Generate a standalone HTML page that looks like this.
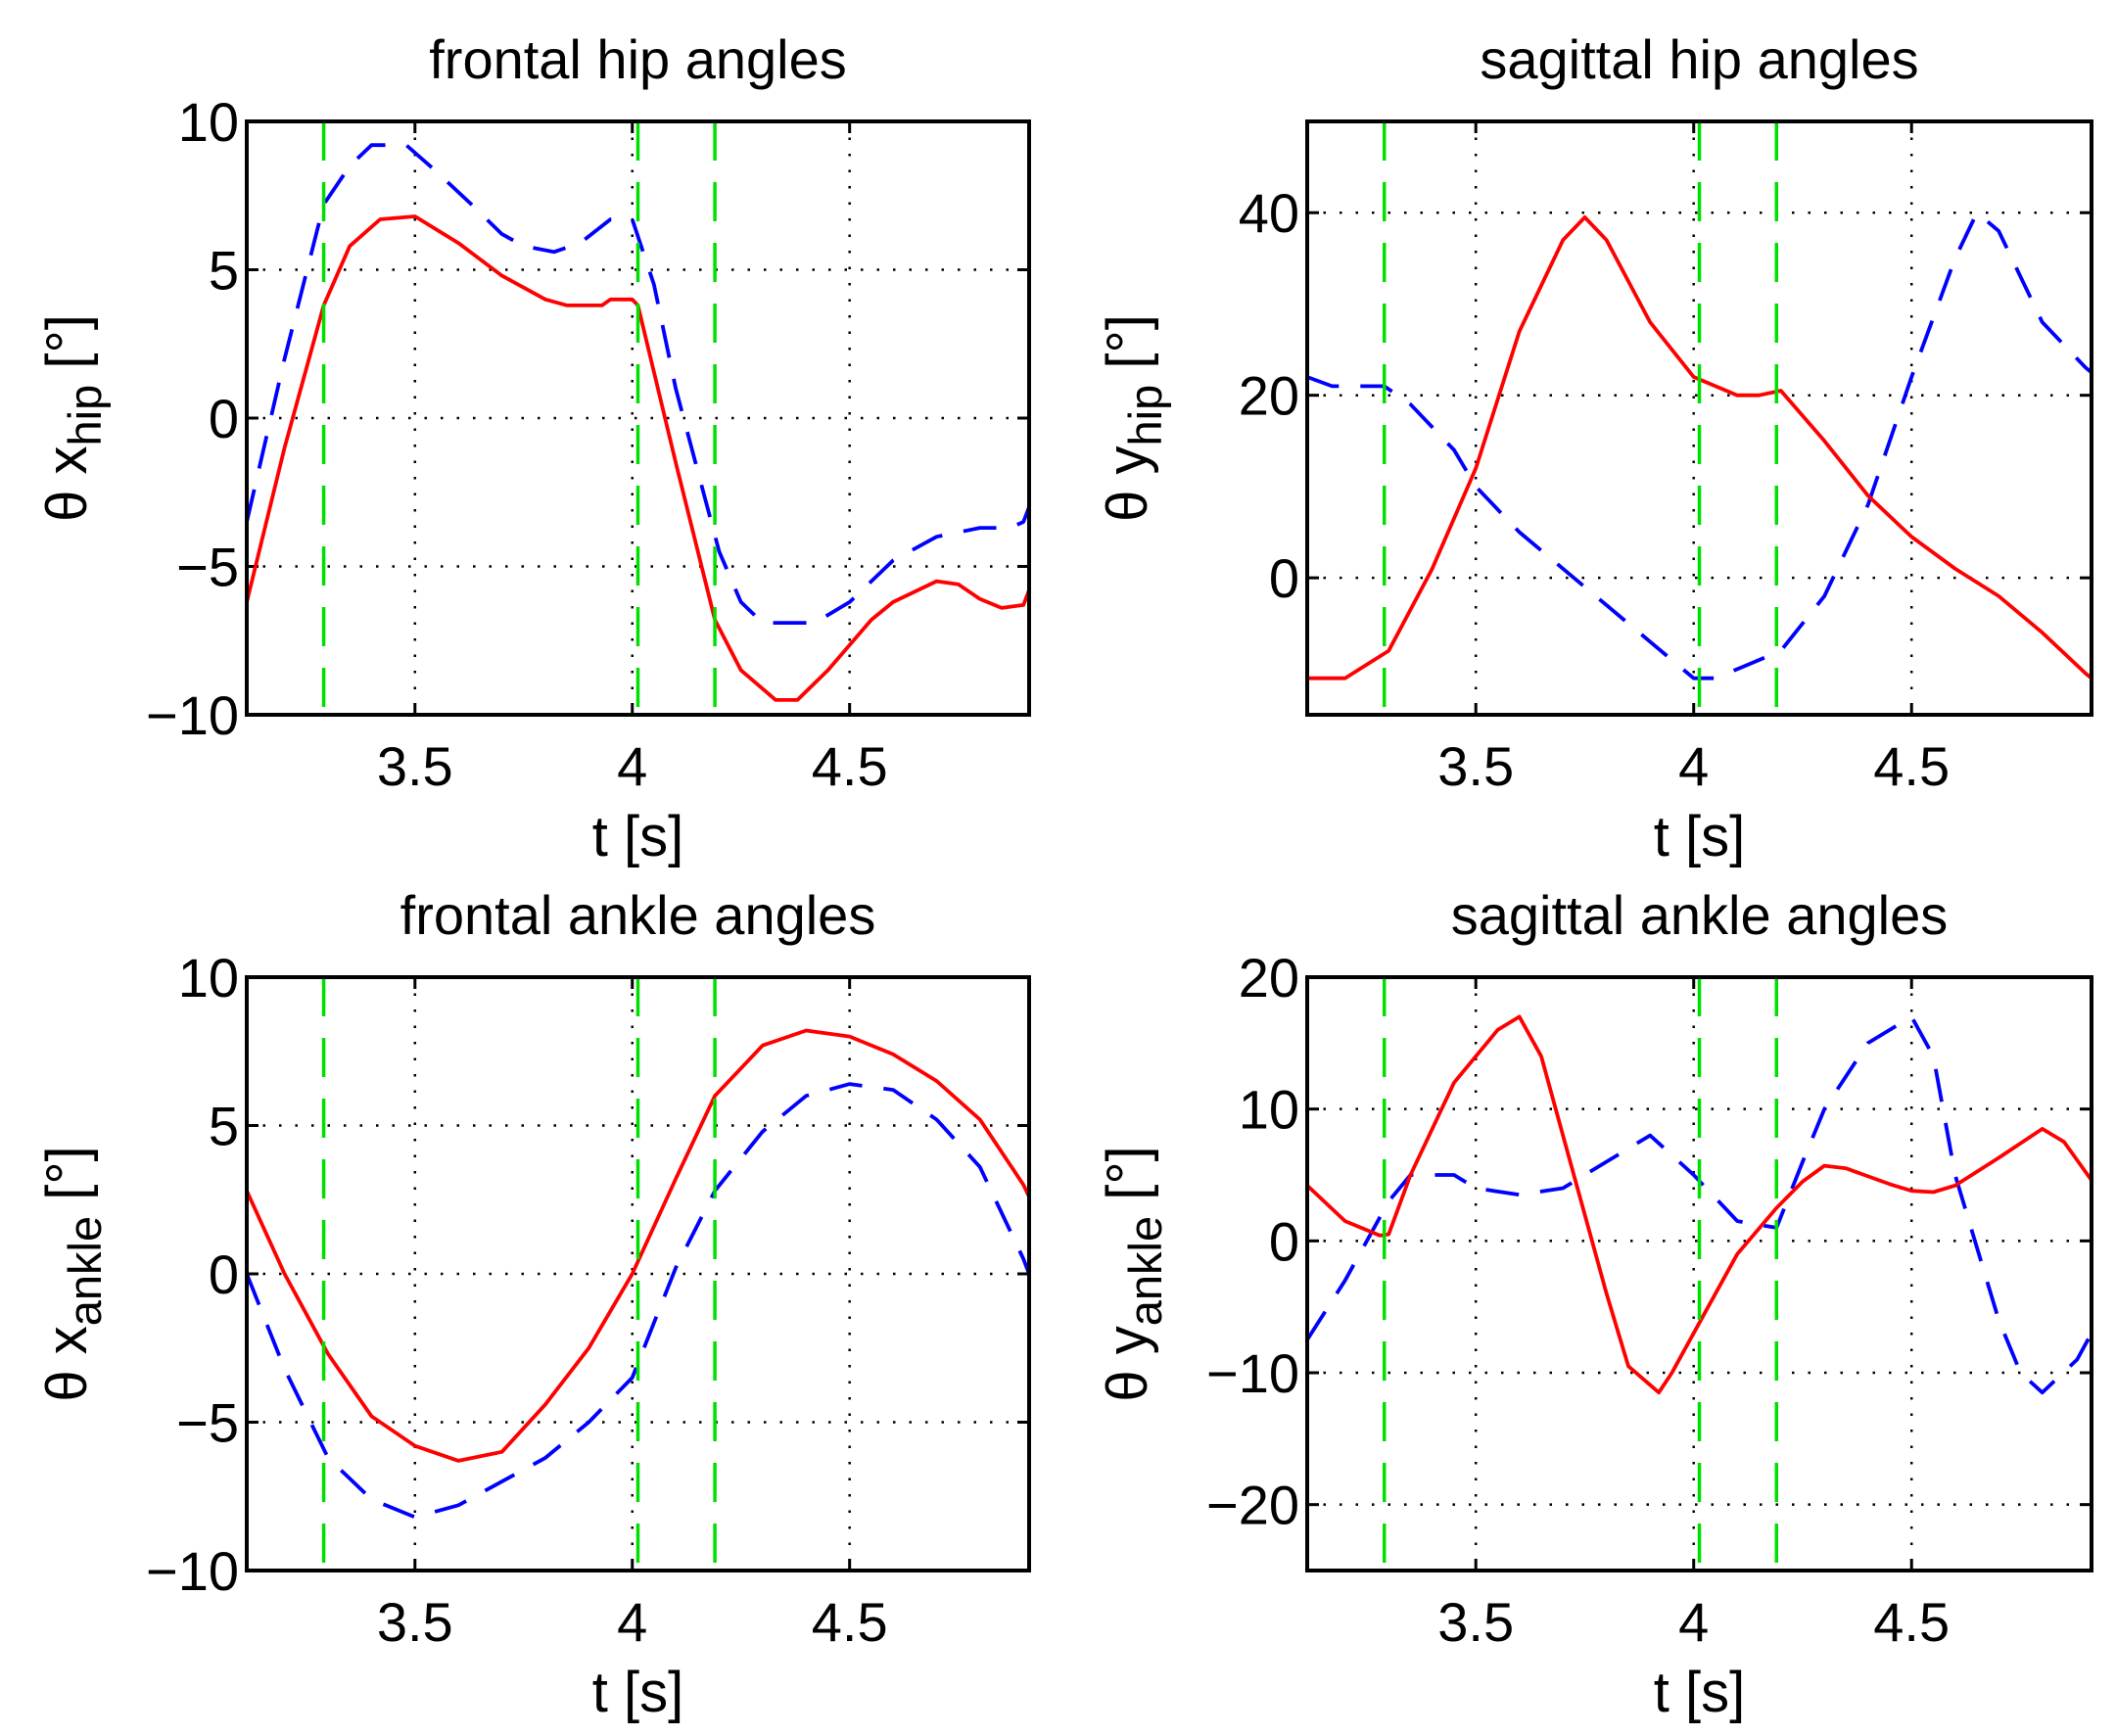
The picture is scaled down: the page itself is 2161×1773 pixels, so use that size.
<!DOCTYPE html>
<html><head><meta charset="utf-8"><style>
html,body{margin:0;padding:0;background:#fff}
svg{display:block}
text{font-family:"Liberation Sans",sans-serif;fill:#000}
</style></head><body>
<svg id="fig" width="2161" height="1773" viewBox="0 0 2161 1773" xmlns="http://www.w3.org/2000/svg"></svg>
<script>
const tHipX = [3.113,3.2,3.29,3.35,3.42,3.5,3.6,3.7,3.8,3.85,3.93,3.95,4.0,4.013,4.1,4.19,4.25,4.33,4.38,4.45,4.55,4.6,4.7,4.75,4.8,4.85,4.9,4.913];
const redHipX = [-6.2,-1,3.8,5.8,6.7,6.8,5.9,4.8,4.0,3.8,3.8,4.0,4.0,3.8,-1.5,-6.8,-8.5,-9.5,-9.5,-8.5,-6.8,-6.2,-5.5,-5.6,-6.1,-6.4,-6.3,-5.8];
const tHipXb = [3.113,3.2,3.29,3.35,3.4,3.48,3.55,3.63,3.7,3.75,3.82,3.88,3.95,4.0,4.05,4.1,4.2,4.25,4.3,4.42,4.5,4.6,4.7,4.8,4.87,4.9,4.913];
const blueHipX = [-3.5,2,7.2,8.5,9.2,9.2,8.3,7.2,6.2,5.8,5.6,5.9,6.7,6.7,4.5,1,-4.5,-6.2,-6.9,-6.9,-6.2,-4.8,-4.0,-3.7,-3.7,-3.5,-3];
const tHipY = [3.113,3.2,3.3,3.4,3.5,3.6,3.7,3.75,3.8,3.9,4.0,4.1,4.15,4.2,4.3,4.4,4.5,4.6,4.7,4.8,4.9,4.913];
const redHipY = [-11,-11,-8,1,12,27,37,39.5,37,28,22,20,20,20.5,15,9,4.5,1,-2,-6,-10.5,-11];
const tHipYb = [3.113,3.17,3.25,3.29,3.35,3.45,3.5,3.6,3.7,3.8,3.9,4.0,4.05,4.1,4.2,4.3,4.4,4.5,4.6,4.65,4.7,4.8,4.9,4.913];
const blueHipY = [22,21,21,21,19,14,10,5,1,-3,-7,-11,-11,-10,-8,-2,8,22,35,40,38,28,23,22.5];
const tAnkX = [3.113,3.2,3.3,3.4,3.5,3.6,3.7,3.8,3.9,4.0,4.1,4.19,4.3,4.4,4.5,4.6,4.7,4.8,4.9,4.913];
const redAnkX = [2.8,0,-2.7,-4.8,-5.8,-6.3,-6.0,-4.4,-2.5,0,3.2,6.0,7.7,8.2,8.0,7.4,6.5,5.2,3.0,2.6];
const blueAnkX = [0,-3.2,-6.2,-7.6,-8.2,-7.8,-7.0,-6.2,-5.0,-3.5,0.2,2.8,4.8,6.0,6.4,6.2,5.2,3.6,0.5,0];
const tAnkY = [3.113,3.2,3.28,3.3,3.35,3.45,3.55,3.6,3.65,3.7,3.8,3.85,3.92,3.95,4.0,4.1,4.19,4.25,4.3,4.35,4.45,4.5,4.55,4.6,4.7,4.8,4.85,4.9,4.913];
const redAnkY = [4.2,1.5,0.4,0.5,5,12,16,17,14,8,-4,-9.5,-11.5,-10,-7,-1,2.5,4.5,5.7,5.5,4.3,3.8,3.7,4.2,6.3,8.5,7.5,5.2,4.6];
const tAnkYb = [3.113,3.2,3.3,3.35,3.45,3.5,3.6,3.7,3.8,3.9,4.0,4.1,4.19,4.25,4.3,4.4,4.5,4.55,4.6,4.7,4.75,4.8,4.88,4.913];
const blueAnkY = [-7.5,-3,3,5,5,4,3.5,4,6,8,5,1.5,1,6,10,15,17,14,5,-6,-10,-11.5,-9,-7];
const events = [3.113,3.29,4.013,4.19,4.913];
const xTicks = [3.5,4,4.5];
const xTickLabels = ["3.5","4","4.5"];

const NS="http://www.w3.org/2000/svg";
const svg=document.getElementById('fig');
function mk(tag,attrs,parent){const e=document.createElementNS(NS,tag);for(const k in attrs)e.setAttribute(k,attrs[k]);(parent||svg).appendChild(e);return e;}

const panels=[
 {name:'frontal-hip',title:'frontal hip angles',sym:'x',sub:'hip',box:[252,124,1051,730],yl:[-10,10],yt:[-10,-5,0,5,10],
  series:[[tHipXb,blueHipX,'blue'],[tHipX,redHipX,'red']]},
 {name:'sagittal-hip',title:'sagittal hip angles',sym:'y',sub:'hip',box:[1335,124,2136,730],yl:[-15,50],yt:[0,20,40],
  series:[[tHipYb,blueHipY,'blue'],[tHipY,redHipY,'red']]},
 {name:'frontal-ankle',title:'frontal ankle angles',sym:'x',sub:'ankle',box:[252,998,1051,1604],yl:[-10,10],yt:[-10,-5,0,5,10],
  series:[[tAnkX,blueAnkX,'blue'],[tAnkX,redAnkX,'red']]},
 {name:'sagittal-ankle',title:'sagittal ankle angles',sym:'y',sub:'ankle',box:[1335,998,2136,1604],yl:[-25,20],yt:[-20,-10,0,10,20],
  series:[[tAnkYb,blueAnkY,'blue'],[tAnkY,redAnkY,'red']]}
];
const xl=[3.113,4.913];
panels.forEach(p=>{
  const [x0,y0,x1,y1]=p.box;
  const g=mk('g',{});
  
  
  const X=t=>x0+(t-xl[0])/(xl[1]-xl[0])*(x1-x0);
  const Y=v=>y1-(v-p.yl[0])/(p.yl[1]-p.yl[0])*(y1-y0);
  xTicks.forEach((t,i)=>{
    const l=mk('line',{x1:X(t),x2:X(t),y1:y0,y2:y1,stroke:'#000','stroke-width':2.5,'stroke-dasharray':'2.5 14'},g);
    
    
    mk('line',{x1:X(t),x2:X(t),y1:y1,y2:y1-12,stroke:'#000','stroke-width':3},g);
    mk('line',{x1:X(t),x2:X(t),y1:y0,y2:y0+12,stroke:'#000','stroke-width':3},g);
    const tx=mk('text',{x:X(t),y:y1+72,'font-size':56,'text-anchor':'middle'},g);
    tx.textContent=xTickLabels[i];
    
    
  });
  p.yt.forEach(v=>{
    const l=mk('line',{x1:x0,x2:x1,y1:Y(v),y2:Y(v),stroke:'#000','stroke-width':2.5,'stroke-dasharray':'2.5 14'},g);
    
    
    mk('line',{x1:x0,x2:x0+12,y1:Y(v),y2:Y(v),stroke:'#000','stroke-width':3},g);
    mk('line',{x1:x1,x2:x1-12,y1:Y(v),y2:Y(v),stroke:'#000','stroke-width':3},g);
    const tx=mk('text',{x:x0-8,y:Y(v)+20,'font-size':56,'text-anchor':'end'},g);
    tx.textContent=(v<0?'\u2212'+(-v):String(v));
    
    
  });
  p.series.forEach(s=>{
    const d=s[0].map((t,i)=>(i?'L':'M')+X(t).toFixed(1)+','+Y(s[1][i]).toFixed(1)).join('');
    const attrs={d:d,fill:'none',stroke:s[2]==='red'?'#ff0000':'#0000ff','stroke-width':3.8,'stroke-linejoin':'round'};
    if(s[2]==='blue')attrs['stroke-dasharray']='34 22';
    const path=mk('path',attrs,g);
    
    
  });
  events.forEach(t=>{
    const l=mk('line',{x1:X(t),x2:X(t),y1:y0,y2:y1,stroke:'#00e000','stroke-width':3.5,'stroke-dasharray':'40 22'},g);
    
    
  });
  const r=mk('rect',{x:x0,y:y0,width:x1-x0,height:y1-y0,fill:'none',stroke:'#000','stroke-width':4},g);
  
  
  const ti=mk('text',{x:(x0+x1)/2,y:y0-44,'font-size':56,'text-anchor':'middle'},g);
  ti.textContent=p.title;
  
  
  const xlab=mk('text',{x:(x0+x1)/2,y:y1+144,'font-size':58,'text-anchor':'middle'},g);
  xlab.textContent='t [s]';
  
  
  const cx=x0-164, cy=(y0+y1)/2;
  const yl=mk('text',{x:0,y:0,'font-size':58,'text-anchor':'middle',transform:`translate(${cx},${cy}) rotate(-90)`},g);
  
  
  const a=mk('tspan',{},yl); a.textContent='\u03b8 '+p.sym;
  const b=mk('tspan',{dy:15,'font-size':47},yl); b.textContent=p.sub;
  const c=mk('tspan',{dy:-15},yl); c.textContent=' [\u00b0]';
});
</script>
</body></html>
